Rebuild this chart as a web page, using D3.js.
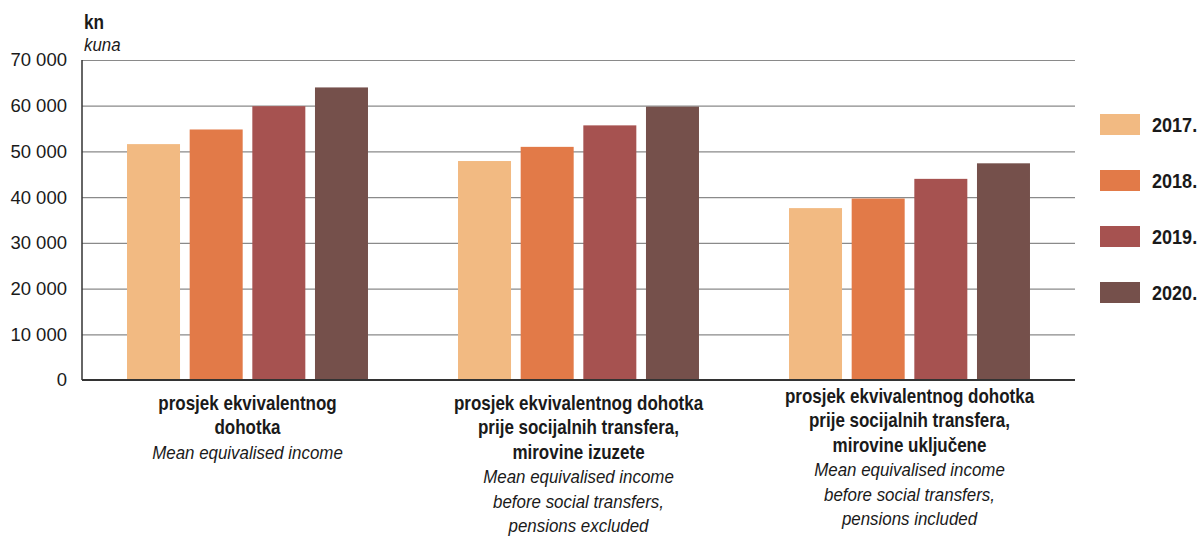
<!DOCTYPE html>
<html>
<head>
<meta charset="utf-8">
<script src="https://cdn.jsdelivr.net/npm/d3@7"></script>
<style>
  body { margin: 0; background: #fff; }
  text { font-family: "Liberation Sans", Arial, sans-serif; fill: #1a1a1a; }
</style>
</head>
<body>
<script>
// data (kuna)
var years = ["2017.", "2018.", "2019.", "2020."];
var groups = ["mean", "exclPens", "inclPens"];
var v2017 = [51600, 47900, 37600];
var v2018 = [54800, 51000, 39700];
var v2019 = [59900, 55700, 44000];
var v2020 = [64000, 59800, 47400];
var yTicks = [0, 10000, 20000, 30000, 40000, 50000, 60000, 70000];

var labelsHr = [
  ["prosjek ekvivalentnog", "dohotka"],
  ["prosjek ekvivalentnog dohotka", "prije socijalnih transfera,", "mirovine izuzete"],
  ["prosjek ekvivalentnog dohotka", "prije socijalnih transfera,", "mirovine uključene"]
];
var labelsEn = [
  ["Mean equivalised income"],
  ["Mean equivalised income", "before social transfers,", "pensions excluded"],
  ["Mean equivalised income", "before social transfers,", "pensions included"]
];

var colors = ["#f2ba82", "#e27a48", "#a65250", "#75504b"];
var series = [v2017, v2018, v2019, v2020];

var width = 1200, height = 542;
var margin = {left: 82, top: 60, right: 125, bottom: 162};

var svg = d3.select("body").append("svg")
  .attr("width", width)
  .attr("height", height);

// condensed look: squeeze text horizontally
function label(x, y, txt, size, sx, opts) {
  opts = opts || {};
  return svg.append("text")
    .attr("transform", "translate(" + x + "," + y + ") scale(" + sx + ",1)")
    .attr("text-anchor", opts.anchor || "start")
    .style("font-size", size + "px")
    .style("font-weight", opts.bold ? "bold" : "normal")
    .style("font-style", opts.italic ? "italic" : "normal")
    .text(txt);
}

var x0 = d3.scaleBand()
  .domain(groups)
  .range([margin.left, width - margin.right])
  .paddingInner(0.272)
  .paddingOuter(0.136);

var x1 = d3.scaleBand()
  .domain(years)
  .range([0, x0.bandwidth()])
  .paddingInner(0.154);

var y = d3.scaleLinear()
  .domain([0, 70000])
  .range([height - margin.bottom, margin.top]);

var fmt = function(d) { return d3.format(",")(d).replace(/,/g, " "); };

// grid
var grid = svg.append("g")
  .attr("transform", "translate(" + margin.left + ",0)")
  .call(d3.axisLeft(y).tickValues(yTicks.slice(1)).tickSize(-(width - margin.right - margin.left)).tickFormat(""));
grid.select(".domain").remove();
grid.selectAll("line").attr("stroke", "#8a8a8a").attr("stroke-width", 1.2);

// bars
var g = svg.append("g");
series.forEach(function(vals, i) {
  g.selectAll(".bar" + i)
    .data(vals)
    .enter()
    .append("rect")
    .attr("x", function(d, j) { return x0(groups[j]) + x1(years[i]); })
    .attr("y", function(d) { return y(d); })
    .attr("width", x1.bandwidth())
    .attr("height", function(d) { return y(0) - y(d); })
    .attr("fill", colors[i]);
});

// axes lines
svg.append("line")
  .attr("x1", margin.left).attr("x2", margin.left)
  .attr("y1", margin.top).attr("y2", y(0))
  .attr("stroke", "#333").attr("stroke-width", 1.5);
svg.append("line")
  .attr("x1", margin.left).attr("x2", width - margin.right)
  .attr("y1", y(0)).attr("y2", y(0))
  .attr("stroke", "#333").attr("stroke-width", 2);

// y tick labels
var yAxis = svg.append("g")
  .attr("transform", "translate(" + margin.left + ",0)")
  .call(d3.axisLeft(y).tickValues(yTicks).tickSize(0).tickPadding(15).tickFormat(fmt));
yAxis.select(".domain").remove();
yAxis.selectAll("text")
  .attr("font-family", null)
  .style("font-size", "18.5px")
  .attr("fill", "#1a1a1a");

// unit
label(84, 29, "kn", 20, 0.86, {bold: true});
label(84, 51, "kuna", 19, 0.89, {italic: true});

// category labels
var topY = [410, 410, 403];
groups.forEach(function(gk, j) {
  var cx = x0(gk) + x0.bandwidth() / 2;
  var yy = topY[j];
  labelsHr[j].forEach(function(t, k) {
    label(cx, yy, t, 20, 0.85, {bold: true, anchor: "middle"});
    yy += 24.3;
  });
  if (j > 0) yy += 0.5;
  labelsEn[j].forEach(function(t, k) {
    label(cx, yy, t, 19, 0.89, {italic: true, anchor: "middle"});
    yy += 24.3;
  });
});

// legend
var leg = svg.append("g");
years.forEach(function(yr, i) {
  var ly = 114 + i * 56;
  leg.append("rect")
    .attr("x", 1100).attr("y", ly)
    .attr("width", 40).attr("height", 21)
    .attr("fill", colors[i]);
  label(1152, ly + 18, yr, 21, 0.86, {bold: true});
});
</script>
</body>
</html>
